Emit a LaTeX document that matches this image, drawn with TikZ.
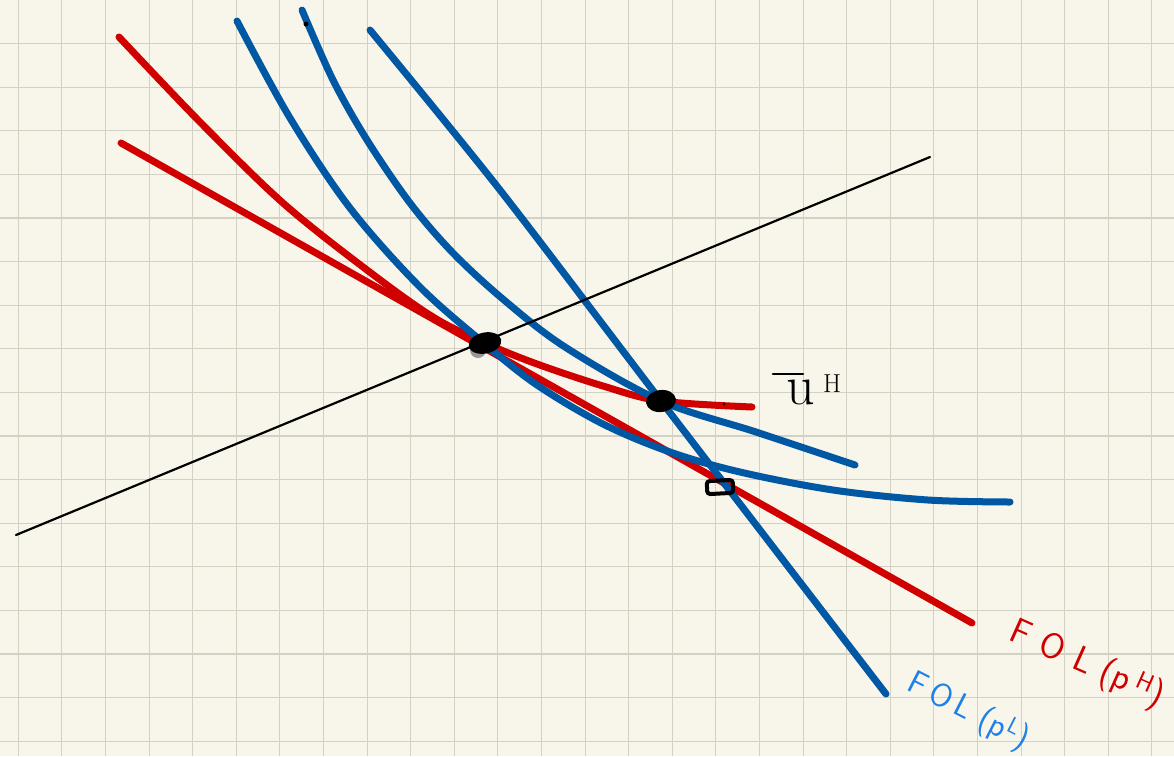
\documentclass[tikz,border=0pt]{standalone}
\usepackage{fontspec}
\usetikzlibrary{shapes.geometric}
\definecolor{paper}{HTML}{F8F6EA}
\definecolor{gridc}{HTML}{D3D1C4}
\definecolor{cred}{HTML}{D00000}
\definecolor{cblue}{HTML}{0057A3}
\definecolor{lblue}{HTML}{1F80E8}
\begin{document}
\begin{tikzpicture}[x=1pt,y=-1pt,
  gridline/.style={gridc, line width=1.1pt},
  redcurve/.style={cred, line width=7pt, line cap=round, line join=round},
  bluecurve/.style={cblue, line width=7pt, line cap=round, line join=round},
  axisline/.style={black, line width=2.2pt, line cap=round},
  blob/.style={ellipse, fill=black, inner sep=0pt},
  marker/.style={draw=black, line width=4pt, rounded corners=3pt, minimum width=26pt, minimum height=13pt, inner sep=0pt},
  lbl/.style={inner sep=0pt, font=\sffamily\fontsize{36}{36}\selectfont}]
% paper
\fill[paper] (0,0) rectangle (1174,756);
\useasboundingbox (0,0) rectangle (1174,756);
\foreach \k in {0,...,26} \draw[gridline] ({18.3+43.6*\k},0) -- ({18.3+43.6*\k},756);
\foreach \k in {1,...,17} \draw[gridline] (0,{43.6*\k}) -- (1174,{43.6*\k});
% key points
\coordinate (p1) at (485,343);
\coordinate (p2) at (661,401);
\coordinate (p3) at (720,487);
\coordinate (aS) at (16,535);
\coordinate (aE) at (930,157);
\coordinate (rS) at (121,143);
\coordinate (rE) at (972,623);
% red curves
\draw[redcurve] (rS) -- (rE);
\draw[redcurve] plot[smooth, tension=0.55] coordinates {(119,37) (200,122) (283,203) (367,270) (433,317) (485,343) (537,364) (603,386) (661,401) (752,407)};
% blue curves
\draw[bluecurve] plot[smooth, tension=0.55] coordinates {(237,21) (290,118) (350,208) (420,287) (485,344) (537,385) (603,424) (670,452) (740,472) (833,490) (928,500) (1010,502)};
\draw[bluecurve] plot[smooth, tension=0.55] coordinates {(302,10) (333,80) (367,140) (410,203) (453,253) (504,300) (565,347) (661,401) (756,432) (855,465)};
\draw[bluecurve] plot[smooth, tension=0.5] coordinates {(370,30) (500,190) (661,401) (886,694)};
% axis line
\draw[axisline] (aS) -- (aE);
% points
\fill[black!50, opacity=0.8] (478,350) circle (8pt);
\node[blob, minimum width=33pt, minimum height=21pt, rotate=12] (d1) at (p1) {};
\node[blob, minimum width=30pt, minimum height=22pt, rotate=8] (d2) at (p2) {};
\node[marker, rotate=3] (sq) at (p3) {};
\fill[black] (306,24) circle (2.5pt);
\fill[black] (724,404) circle (1.5pt);
% label U-bar H
\node[inner sep=0pt, font=\fontsize{56}{56}\selectfont] (uh) at (801,392) {u};
\node[inner sep=0pt, font=\fontsize{26}{26}\selectfont] (uhs) at (832,384) {H};
\coordinate (barL) at (773,374);
\coordinate (barR) at (803,374);
\draw[black, line width=2.6pt, line cap=round] (barL) -- (barR);
% FOL labels
\node[lbl, cred, rotate=-24] (fh) at (1087,665) {F\,\,O\,\,L\,\,(p\,\textsuperscript{H})};
\node[lbl, lblue, rotate=-27, font=\sffamily\fontsize{33}{33}\selectfont] (fl) at (968,712) {F\,O\,L\,\,(p\textsuperscript{L})};
\end{tikzpicture}
\end{document}
